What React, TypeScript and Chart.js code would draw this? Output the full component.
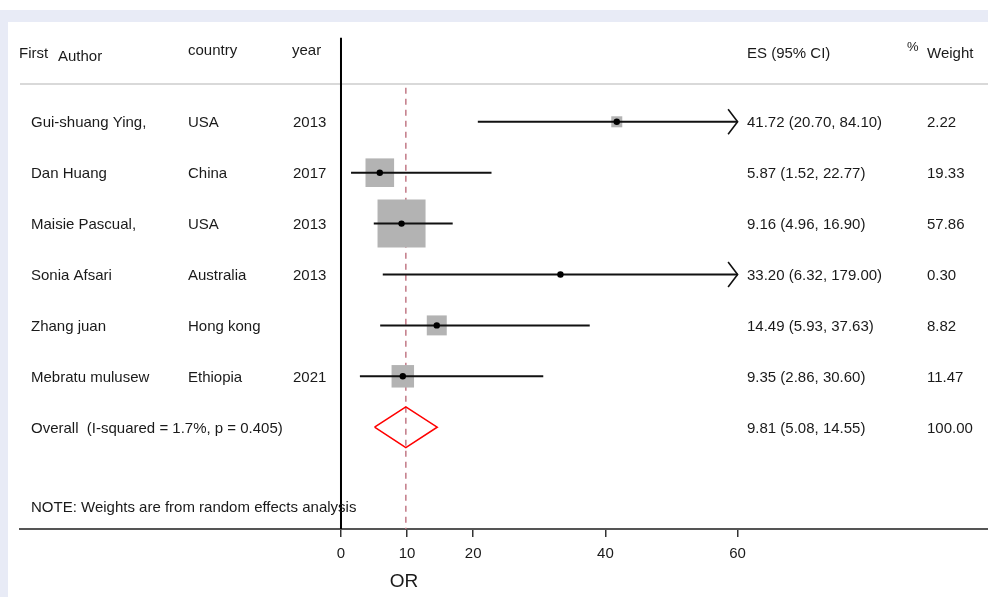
import React, { useEffect, useRef } from "react";
import { Chart, registerables } from "chart.js";

Chart.register(...registerables);

// ---- data ----
const AUTHORS = ["Gui-shuang Ying,", "Dan Huang", "Maisie Pascual,", "Sonia Afsari", "Zhang juan", "Mebratu mulusew"];
const COUNTRIES = ["USA", "China", "USA", "Australia", "Hong kong", "Ethiopia"];
const YEARS = ["2013", "2017", "2013", "2013", "", "2021"];
const ES = [41.72, 5.87, 9.16, 33.2, 14.49, 9.35];
const CI_LOW = [20.7, 1.52, 4.96, 6.32, 5.93, 2.86];
const CI_HIGH = [84.1, 22.77, 16.9, 179.0, 37.63, 30.6];
const WEIGHTS = [2.22, 19.33, 57.86, 0.3, 8.82, 11.47];
const OVERALL_ES = 9.81;
const OVERALL_LOW = 5.08;
const OVERALL_HIGH = 14.55;
const OVERALL_WEIGHT = 100.0;
const I_SQUARED = 1.7;
const P_VALUE = 0.405;
const X_TICKS = [0, 10, 20, 40, 60];
const X_CLIP = 60;

const FONT = '"Liberation Sans", Arial, Helvetica, sans-serif';
const TEXT = "#1a1a1a";
const OVERALL_ROW = ES.length;
const DY = 1.5;

const forestPlugin = {
  id: "forestDecor",
  beforeDraw(chart: any) {
    const { ctx, width, height } = chart;
    ctx.save();
    ctx.fillStyle = "#ffffff";
    ctx.fillRect(0, 0, width, height);
    ctx.fillStyle = "#e8ebf6";
    ctx.fillRect(0, 10, width, 12);
    ctx.fillRect(0, 10, 8, height - 10);
    ctx.restore();
  },
  beforeDatasetsDraw(chart: any) {
    const { ctx } = chart;
    const y = chart.scales.y.getPixelForValue(-0.745);
    ctx.save();
    ctx.strokeStyle = "#d9d9d9";
    ctx.lineWidth = 2;
    ctx.beginPath();
    ctx.moveTo(20, y);
    ctx.lineTo(chart.width, y);
    ctx.stroke();
    ctx.restore();
  },
  afterDraw(chart: any) {
    const { ctx } = chart;
    const xs = chart.scales.x;
    const ys = chart.scales.y;
    const py = (v: number) => ys.getPixelForValue(v) + DY;
    ctx.save();
    ctx.fillStyle = TEXT;
    ctx.textBaseline = "middle";
    ctx.textAlign = "left";
    ctx.font = `15px ${FONT}`;
    // header
    const hy = py(-1.36);
    ctx.fillText("First", 19, hy);
    ctx.fillText("Author", 58, py(-1.3));
    ctx.fillText("country", 188, py(-1.42));
    ctx.fillText("year", 292, py(-1.42));
    ctx.fillText("ES (95% CI)", 747, hy);
    ctx.fillText("Weight", 927, hy);
    ctx.font = `13px ${FONT}`;
    ctx.fillText("%", 907, py(-1.5));
    ctx.font = `15px ${FONT}`;
    // rows
    ES.forEach((es, i) => {
      const y = py(i);
      ctx.fillText(AUTHORS[i], 31, y);
      ctx.fillText(COUNTRIES[i], 188, y);
      ctx.fillText(YEARS[i], 293, y);
      ctx.fillText(`${es.toFixed(2)} (${CI_LOW[i].toFixed(2)}, ${CI_HIGH[i].toFixed(2)})`, 747, y);
      ctx.fillText(WEIGHTS[i].toFixed(2), 927, y);
    });
    const oy = py(OVERALL_ROW);
    ctx.fillText(`Overall  (I-squared = ${I_SQUARED}%, p = ${P_VALUE})`, 31, oy);
    ctx.fillText(`${OVERALL_ES.toFixed(2)} (${OVERALL_LOW.toFixed(2)}, ${OVERALL_HIGH.toFixed(2)})`, 747, oy);
    ctx.fillText(OVERALL_WEIGHT.toFixed(2), 927, oy);
    ctx.fillText("NOTE: Weights are from random effects analysis", 31, py(7.55));
    // axis title
    ctx.font = `19px ${FONT}`;
    ctx.textAlign = "center";
    ctx.fillText("OR", xs.getPixelForValue(10) - 3, 582);
    // arrows for clipped CIs
    ctx.strokeStyle = "#111";
    ctx.lineWidth = 1.6;
    CI_HIGH.forEach((hi, i) => {
      if (hi > X_CLIP) {
        const tx = xs.getPixelForValue(X_CLIP);
        const y = ys.getPixelForValue(i);
        ctx.beginPath();
        ctx.moveTo(tx - 9.5, y - 12.5);
        ctx.lineTo(tx, y);
        ctx.lineTo(tx - 9.5, y + 12.5);
        ctx.stroke();
      }
    });
    ctx.restore();
  },
};

export default function App() {
  const ref = useRef<HTMLCanvasElement | null>(null);

  useEffect(() => {
    if (!ref.current) return;
    const ciSets = ES.map((_, i) => ({
      data: [
        { x: CI_LOW[i], y: i },
        { x: Math.min(CI_HIGH[i], X_CLIP), y: i },
      ],
      showLine: true,
      borderColor: "#111",
      borderWidth: 2,
      pointRadius: 0,
      order: 5,
    }));
    const chart = new Chart(ref.current, {
      type: "scatter",
      data: {
        datasets: [
          {
            data: [
              { x: OVERALL_ES, y: -0.67 },
              { x: OVERALL_ES, y: 8 },
            ],
            showLine: true,
            borderColor: "#c27a86",
            borderWidth: 1.5,
            borderDash: [6, 5],
            pointRadius: 0,
            order: 10,
          },
          {
            data: ES.map((x, i) => ({ x, y: i })),
            pointStyle: "rect",
            pointRadius: WEIGHTS.map((w) => (2 + 6.05 * Math.sqrt(w)) / Math.SQRT2),
            backgroundColor: "#b3b3b3",
            borderWidth: 0,
            order: 8,
          },
          {
            data: [
              { x: 0, y: -1.65 },
              { x: 0, y: 8 },
            ],
            showLine: true,
            borderColor: "#000",
            borderWidth: 2,
            pointRadius: 0,
            order: 7,
          },
          ...ciSets,
          {
            data: [
              { x: OVERALL_LOW, y: OVERALL_ROW },
              { x: OVERALL_ES, y: OVERALL_ROW - 0.4 },
              { x: OVERALL_HIGH, y: OVERALL_ROW },
              { x: OVERALL_ES, y: OVERALL_ROW + 0.4 },
              { x: OVERALL_LOW, y: OVERALL_ROW },
            ],
            showLine: true,
            borderColor: "#ff0000",
            borderWidth: 1.6,
            pointRadius: 0,
            order: 3,
          },
          {
            data: ES.map((x, i) => ({ x, y: i })),
            pointStyle: "circle",
            pointRadius: 3.2,
            backgroundColor: "#000",
            borderWidth: 0,
            order: 1,
          },
        ] as any,
      },
      options: {
        animation: false,
        responsive: false,
        devicePixelRatio: 1,
        layout: { autoPadding: false, padding: { left: 20, right: 0, top: 20, bottom: 0 } },
        plugins: { legend: { display: false }, tooltip: { enabled: false } },
        scales: {
          x: {
            type: "linear",
            min: -48.56,
            max: 97.88,
            afterBuildTicks: (s: any) => {
              s.ticks = X_TICKS.map((v) => ({ value: v }));
            },
            afterFit: (s: any) => {
              s.height = 68;
            },
            grid: {
              drawOnChartArea: false,
              drawTicks: true,
              tickLength: 8,
              color: "#333",
              lineWidth: 1.5,
            },
            border: { display: true, color: "#555", width: 2 },
            ticks: {
              autoSkip: false,
              maxRotation: 0,
              padding: 8,
              color: TEXT,
              font: { size: 15, family: FONT },
              callback: (v: any) => String(v),
            },
          },
          y: {
            type: "linear",
            reverse: true,
            min: -2,
            max: 8,
            display: false,
          },
        },
      },
      plugins: [forestPlugin],
    });
    return () => chart.destroy();
  }, []);

  return (
    <div style={{ position: "absolute", left: 0, top: 0, width: 988, height: 597 }}>
      <canvas ref={ref} width={988} height={597} style={{ display: "block" }} />
    </div>
  );
}
